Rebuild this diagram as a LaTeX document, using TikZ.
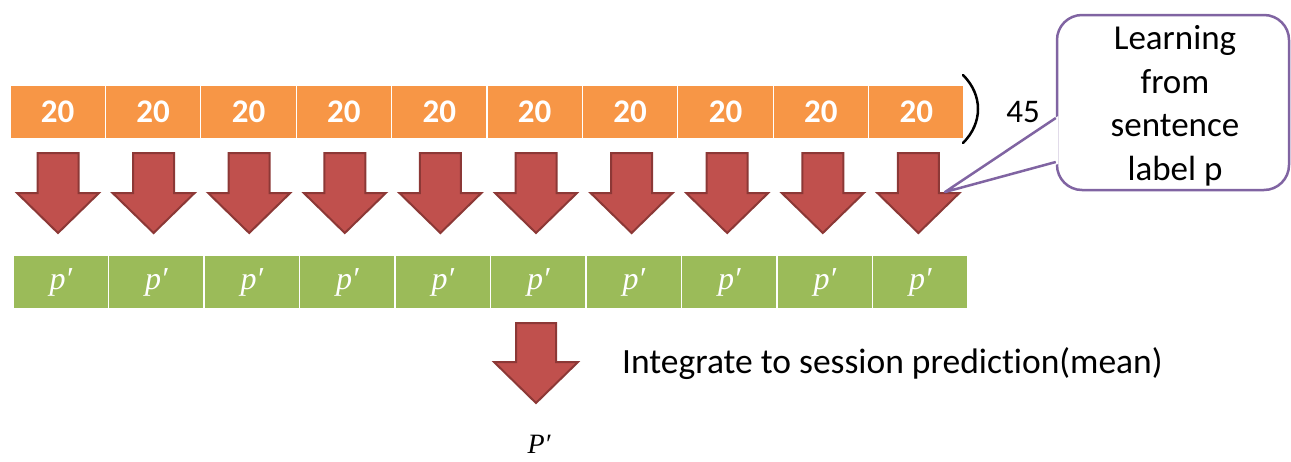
\documentclass[tikz,border=0pt]{standalone}
\usepackage{fontspec}
\setmainfont[Ligatures=NoCommon]{Carlito}
\newfontfamily\mathlike{Liberation Serif}
\usetikzlibrary{calc}
\definecolor{orangec}{HTML}{F79646}
\definecolor{greenc}{HTML}{9BBB59}
\definecolor{redc}{HTML}{C0504D}
\definecolor{redb}{HTML}{8C3836}
\definecolor{purp}{HTML}{8064A2}
\newcommand{\pprime}{{\mathlike\itshape p\kern-0.5pt′}}
\tikzset{
  ocell/.style={fill=orangec, draw=white, line width=1.2pt, minimum width=95.4pt, minimum height=54pt, inner sep=0pt, text=white, font=\fontsize{33}{33}\selectfont\bfseries},
  gcell/.style={fill=greenc, draw=white, line width=1.2pt, minimum width=95.5pt, minimum height=54pt, inner sep=0pt, text=white, font=\fontsize{32}{32}\selectfont},
  blockarrow/.style={fill=redc, draw=redb, line width=2pt, line join=miter},
  callout/.style={draw=purp, fill=white, line width=2.5pt, rounded corners=25pt, minimum width=232pt, minimum height=175pt, inner sep=0pt},
  plain/.style={inner sep=0pt, font=\fontsize{33}{33}\selectfont}
}
\begin{document}
\begin{tikzpicture}[x=1pt,y=-1pt]
\useasboundingbox (0,0) rectangle (1291,461);
% orange row
\foreach \i in {0,...,9} {
  \node[ocell] (o\i) at ({57.7+95.4*\i},112) {20};
}
% green row
\foreach \i in {0,...,9} {
  \node[gcell] (g\i) at ({60.75+95.5*\i},282) {\pprime};
}
% block arrows
\foreach \i in {0,...,9} {
  \pgfmathsetmacro{\cx}{58+95.6*\i}
  \draw[blockarrow] (\cx-20.5,153) -- (\cx+20.5,153) -- (\cx+20.5,193) -- (\cx+41,193) -- (\cx,233) -- (\cx-41,193) -- (\cx-20.5,193) -- cycle;
}
% bracket and 45
\draw[line width=2.5pt, line cap=round] (963,75) .. controls (983,95) and (983,123) .. (963,143);
\node[plain] (n45) at (1023,112) {45};
% callout
\node[callout] (call) at (1173,102.5) {};
\node[inner sep=0pt, align=center, font=\fontsize{35}{43.5}\selectfont] (calltext) at (1175,106) {Learning\\from\\sentence\\label p};
\coordinate (tip) at (945,192);
\coordinate (pa) at ($(call.west)+(0,15.5)$);
\coordinate (pb) at ($(call.west)+(0,59.5)$);
\fill[white] ($(pa)+(2.5,-2)$) -- (tip) -- ($(pb)+(2.5,2)$) -- cycle;
\draw[purp, line width=2.5pt, line join=round] (pa) -- (tip) -- (pb);
% bottom arrow
\draw[blockarrow] (536-20,323) -- (536+20,323) -- (536+20,362) -- (536+42,362) -- (536,403) -- (536-42,362) -- (536-20,362) -- cycle;
\node[inner sep=0pt, anchor=base west, font=\fontsize{35.5}{36}\selectfont] (integ) at (622,373) {Integrate to session prediction(mean)};
\node[inner sep=0pt, anchor=base, font=\fontsize{28}{28}\selectfont] (pfinal) at (539,453) {{\mathlike\itshape P\kern-0.5pt′}};
\end{tikzpicture}
\end{document}
